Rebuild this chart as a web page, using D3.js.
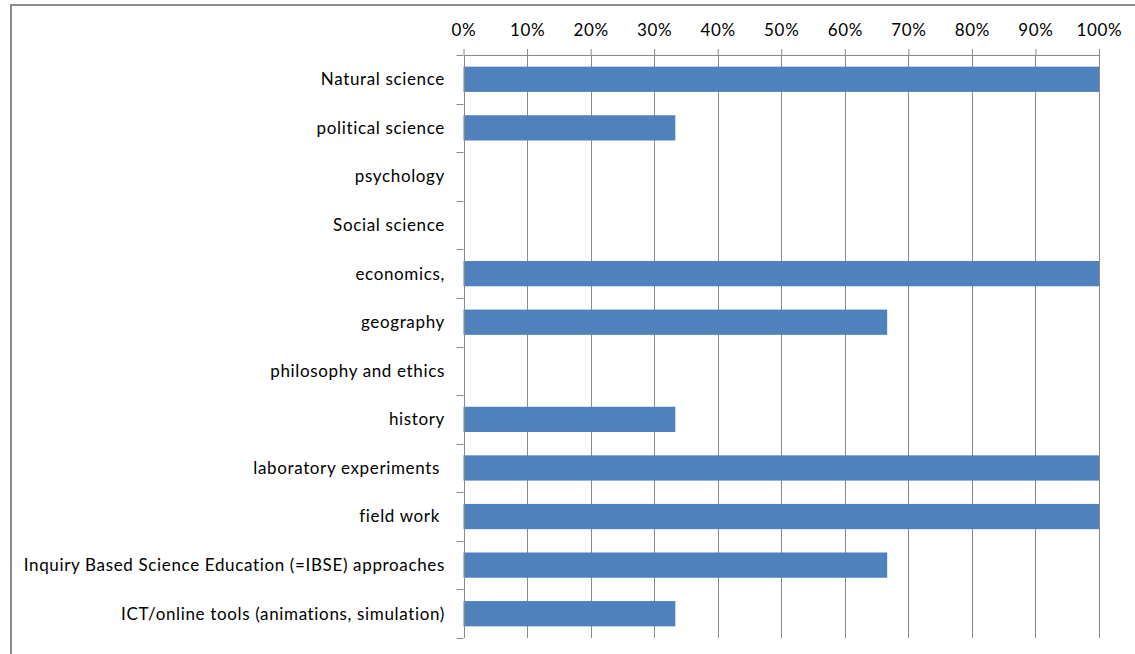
<!DOCTYPE html>
<html>
<head>
<meta charset="utf-8">
<script src="https://cdn.jsdelivr.net/npm/d3@7"></script>
<style>
  html, body { margin: 0; padding: 0; background: #fff; }
  svg { display: block; }
  text { font-family: "Lato", "Liberation Sans", sans-serif; fill: #000; white-space: pre; }
</style>
</head>
<body>
<svg id="chart" width="1135" height="654"></svg>
<script>
// Teaching subjects / approaches and the share of responses for each
const categories = [
  "Natural science",
  "political science",
  "psychology",
  "Social science",
  "economics,",
  "geography",
  "philosophy and ethics",
  "history",
  "laboratory experiments ",
  "field work ",
  "Inquiry Based Science Education (=IBSE) approaches",
  "ICT/online tools (animations, simulation)"
];
const shares = [1, 0.3333, 0, 0, 1, 0.6667, 0, 0.3333, 1, 1, 0.6667, 0.3333];
const tickValues = [0, 0.1, 0.2, 0.3, 0.4, 0.5, 0.6, 0.7, 0.8, 0.9, 1];

const svg = d3.select("#chart");
const width = 1135, height = 654;
const margin = { left: 463.5, right: 36, top: 55, bottom: 16 };
const fontSize = 17;
const spacing = 0.65;

// outer chart frame (only top and left edges fall inside the view)
svg.append("rect")
  .attr("x", 11).attr("y", 5)
  .attr("width", 1200).attr("height", 700)
  .attr("fill", "none")
  .attr("stroke", "#8c8c8c")
  .attr("stroke-width", 2);

const x = d3.scaleLinear().domain([0, 1]).range([margin.left, width - margin.right]);
const y = d3.scaleBand().domain(categories)
  .range([margin.top, height - margin.bottom])
  .paddingInner(0.48).paddingOuter(0.24);

const plotTop = margin.top, plotBottom = height - margin.bottom;

// vertical gridlines
svg.append("g")
  .selectAll("line")
  .data(tickValues.slice(1))
  .join("line")
  .attr("x1", d => Math.round(x(d)) + 0.5)
  .attr("x2", d => Math.round(x(d)) + 0.5)
  .attr("y1", plotTop)
  .attr("y2", plotBottom)
  .attr("stroke", "#8a8a8a")
  .attr("stroke-width", 1);

// bars
svg.append("g")
  .selectAll("rect")
  .data(categories.map((c, i) => ({ c, v: shares[i] })))
  .join("rect")
  .attr("x", x(0))
  .attr("y", d => y(d.c))
  .attr("width", d => x(d.v) - x(0))
  .attr("height", y.bandwidth())
  .attr("fill", "#4f81bd");

// top percentage axis
const xAxis = d3.axisTop(x)
  .tickValues(tickValues)
  .tickFormat(d3.format(".0%"))
  .tickSize(6)
  .tickSizeOuter(0);
const gx = svg.append("g")
  .attr("transform", `translate(0,${plotTop})`)
  .call(xAxis);
gx.select(".domain").attr("stroke", "#8a8a8a");
gx.selectAll(".tick line").attr("stroke", "#8a8a8a");
gx.selectAll(".tick text")
  .attr("font-size", fontSize)
  .attr("font-family", "Lato, sans-serif")
  .attr("letter-spacing", spacing)
  .attr("y", -19)
  .attr("fill", "#000");

// category axis on the left, with ticks between bands
const boundaries = d3.range(categories.length + 1).map(i => plotTop + i * (plotBottom - plotTop) / categories.length);
const gy = svg.append("g");
gy.append("line")
  .attr("x1", Math.round(x(0)) + 0.5).attr("x2", Math.round(x(0)) + 0.5)
  .attr("y1", plotTop).attr("y2", plotBottom)
  .attr("stroke", "#8a8a8a");
gy.selectAll("line.tick")
  .data(boundaries)
  .join("line")
  .attr("class", "tick")
  .attr("x1", x(0) - 7).attr("x2", x(0))
  .attr("y1", d => Math.round(d) + 0.5).attr("y2", d => Math.round(d) + 0.5)
  .attr("stroke", "#8a8a8a");
gy.selectAll("text")
  .data(categories)
  .join("text")
  .attr("x", 445)
  .attr("y", d => y(d) + y.bandwidth() / 2)
  .attr("dy", "0.35em")
  .attr("text-anchor", "end")
  .attr("font-size", fontSize)
  .attr("letter-spacing", spacing)
  .text(d => d);
</script>
</body>
</html>
